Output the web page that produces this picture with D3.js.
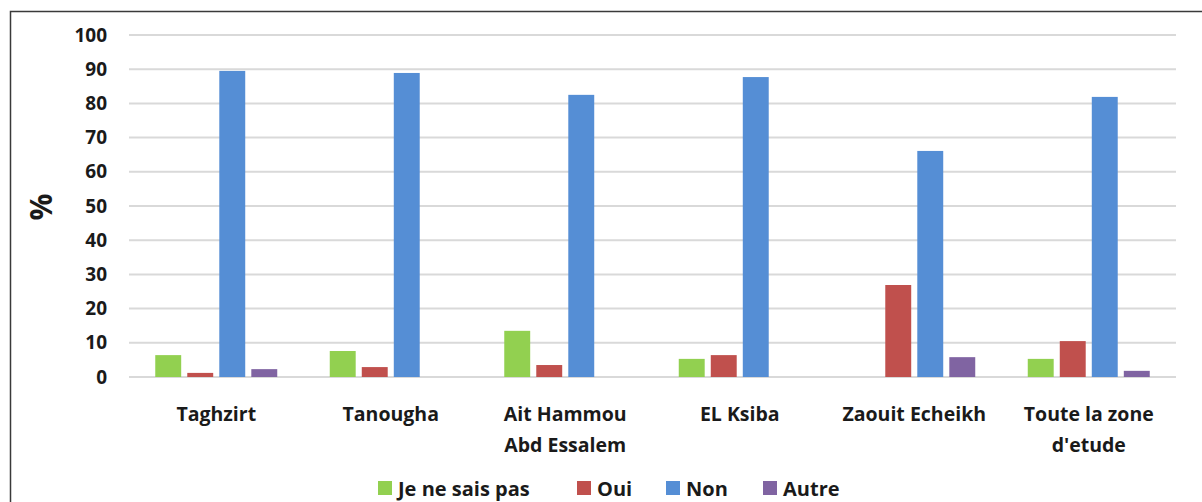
<!DOCTYPE html>
<html>
<head>
<meta charset="utf-8">
<script src="https://cdn.jsdelivr.net/npm/d3@7"></script>
<style>
  html, body { margin: 0; padding: 0; background: #fff; }
  svg { display: block; }
  text { font-family: "Open Sans", Lato, sans-serif; font-weight: 700; fill: #1a1a1a; }
</style>
</head>
<body>
<svg id="chart" width="1202" height="502"></svg>
<script>
// Sites surveyed and the share (%) of each answer
const categories = [
  ["Taghzirt"],
  ["Tanougha"],
  ["Ait Hammou", "Abd Essalem"],
  ["EL Ksiba"],
  ["Zaouit Echeikh"],
  ["Toute la zone", "d'etude"]
];
const seriesNames = ["Je ne sais pas", "Oui", "Non", "Autre"];
const seriesColors = ["#92d050", "#c0504d", "#558ed5", "#8064a2"];
const jeNeSaisPas = [6.4, 7.6, 13.5, 5.3, 0, 5.3];
const oui = [1.2, 2.9, 3.5, 6.4, 26.9, 10.5];
const non = [89.5, 88.9, 82.5, 87.7, 66.1, 81.9];
const autre = [2.3, 0, 0, 0, 5.8, 1.8];
const yTicks = [0, 10, 20, 30, 40, 50, 60, 70, 80, 90, 100];

const values = [jeNeSaisPas, oui, non, autre];
const svg = d3.select("#chart");

// Outer frame of the chart area
svg.append("rect")
  .attr("x", 10.5).attr("y", 11.5)
  .attr("width", 1220).attr("height", 520)
  .attr("fill", "none").attr("stroke", "#3a3a3a").attr("stroke-width", 1.5);

const plot = { left: 129, right: 1176, top: 35, bottom: 377 };

const x0 = d3.scaleBand()
  .domain(d3.range(categories.length))
  .range([plot.left, plot.right])
  .paddingInner(0).paddingOuter(0);

const x1 = d3.scaleBand()
  .domain(d3.range(seriesNames.length))
  .range([0, x0.bandwidth()])
  .paddingInner(0.19).paddingOuter(0.82);

const y = d3.scaleLinear().domain([0, 100]).range([plot.bottom, plot.top]);

// Horizontal gridlines
svg.append("g")
  .selectAll("line")
  .data(yTicks)
  .join("line")
  .attr("x1", plot.left).attr("x2", plot.right)
  .attr("y1", d => y(d)).attr("y2", d => y(d))
  .attr("stroke", "#d9d9d9").attr("stroke-width", 2);

// Y axis tick labels
const yAxis = d3.axisLeft(y).tickValues(yTicks).tickSize(0).tickPadding(0);
const yg = svg.append("g")
  .attr("transform", `translate(${plot.left - 22},0)`)
  .call(yAxis);
yg.select(".domain").remove();
yg.selectAll("text")
  .attr("font-size", 19)
  .attr("font-family", "'Open Sans', sans-serif")
  .attr("font-weight", 700)
  .attr("fill", "#1a1a1a");

// Y axis title
svg.append("text")
  .attr("transform", "translate(52,207) rotate(-90)")
  .attr("text-anchor", "middle")
  .attr("font-size", 30)
  .text("%");

// Bars
const groups = svg.append("g")
  .selectAll("g")
  .data(categories.map((c, i) => i))
  .join("g")
  .attr("transform", i => `translate(${x0(i)},0)`);

groups.selectAll("rect")
  .data(i => values.map((s, k) => ({ k, v: s[i] })))
  .join("rect")
  .attr("x", d => x1(d.k))
  .attr("width", x1.bandwidth())
  .attr("y", d => y(d.v))
  .attr("height", d => y(0) - y(d.v))
  .attr("fill", d => seriesColors[d.k]);

// Category labels (possibly on two lines)
const labels = svg.append("g")
  .selectAll("text")
  .data(categories)
  .join("text")
  .attr("text-anchor", "middle")
  .attr("font-size", 19.5)
  .attr("x", (c, i) => x0(i) + x0.bandwidth() / 2)
  .attr("y", 421);
labels.selectAll("tspan")
  .data(c => c)
  .join("tspan")
  .attr("x", function () { return this.parentNode.getAttribute("x"); })
  .attr("dy", (d, j) => j === 0 ? 0 : 31)
  .text(d => d);

// Legend
const legendX = [378, 577, 666, 763];
const legend = svg.append("g")
  .selectAll("g")
  .data(seriesNames)
  .join("g")
  .attr("transform", (d, i) => `translate(${legendX[i]},481)`);
legend.append("rect")
  .attr("width", 14).attr("height", 14)
  .attr("fill", (d, i) => seriesColors[i]);
legend.append("text")
  .attr("x", 20).attr("y", 14.5)
  .attr("font-size", 20)
  .text(d => d);
</script>
</body>
</html>
